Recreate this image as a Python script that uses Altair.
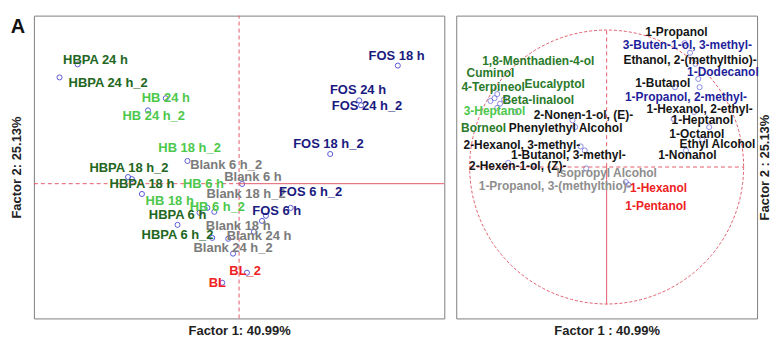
import altair as alt
import pandas as pd

FONT = "Liberation Sans"

# ---------------- Score plot (samples) ----------------
sample_names = ["HBPA 24 h", "HBPA 24 h_2", "HB 24 h", "HB 24 h_2", "HB 18 h_2",
                "HBPA 18 h_2", "HBPA 18 h", "HB 18 h", "HB 6 h", "HB 6 h_2",
                "HBPA 6 h", "HBPA 6 h_2", "Blank 6 h", "Blank 6 h_2", "Blank 18 h_2",
                "Blank 18 h", "Blank 24 h", "Blank 24 h_2", "BL", "BL_2",
                "FOS 18 h", "FOS 24 h", "FOS 24 h_2", "FOS 18 h_2", "FOS 6 h_2", "FOS 6 h"]
sample_group = ["HBPA", "HBPA", "HB", "HB", "HB",
                "HBPA", "HBPA", "HB", "HB", "HB",
                "HBPA", "HBPA", "Blank", "Blank", "Blank",
                "Blank", "Blank", "Blank", "BL", "BL",
                "FOS", "FOS", "FOS", "FOS", "FOS", "FOS"]
sample_f1 = [-5.35, -5.95, -2.43, -3.02, -1.71, -3.68, -3.55, -3.22, -1.31, -0.82,
             -2.04, -0.89, 0.10, -1.05, 0.76, 0.49, -0.36, -0.20, -0.56, 0.26,
             5.26, 3.98, 4.04, 3.02, 1.71, 0.89]
sample_f2 = [3.94, 3.51, 2.82, 2.42, 0.75, 0.22, 0.15, -0.34, -0.96, -0.93,
             -1.36, -1.79, -0.01, -0.80, -1.23, -1.59, -1.82, -2.31, -3.27, -2.94,
             3.90, 2.75, 2.59, 0.98, -0.80, -1.06]
sample_label_f1 = [-4.76, -4.34, -2.43, -2.83, -1.64, -3.65, -3.22, -2.30, -1.18, -0.72,
                   -2.04, -2.04, 0.46, -0.43, 0.23, -0.03, 0.66, -0.20, -0.72, 0.20,
                   5.22, 3.94, 4.24, 2.96, 2.37, 1.25]
sample_label_f2 = [4.10, 3.31, 2.82, 2.23, 1.17, 0.52, -0.01, -0.57, -0.01, -0.77,
                   -1.03, -1.69, 0.22, 0.62, -0.34, -1.39, -1.72, -2.12, -3.27, -2.87,
                   4.23, 3.08, 2.56, 1.31, -0.27, -0.90]
sample_groups = ["HBPA", "HB", "Blank", "FOS", "BL"]
sample_colors = ["#226622", "#4cc84c", "#7b7b7b", "#1a1a80", "#ee2222"]

# ---------------- Loadings plot (variables) ----------------
var_names = ["1,8-Menthadien-4-ol", "Cuminol", "4-Terpineol", "Eucalyptol", "Beta-linalool",
             "3-Heptanol", "Borneol", "2-Nonen-1-ol, (E)-", "Phenylethyl Alcohol",
             "2-Hexanol, 3-methyl-", "1-Butanol, 3-methyl-", "2-Hexen-1-ol, (Z)-",
             "Isopropyl Alcohol", "1-Propanol, 3-(methylthio)-", "1-Hexanol", "1-Pentanol",
             "1-Propanol", "3-Buten-1-ol, 3-methyl-", "Ethanol, 2-(methylthio)-", "1-Dodecanol",
             "1-Butanol", "1-Propanol, 2-methyl-", "1-Hexanol, 2-ethyl-", "1-Heptanol",
             "1-Octanol", "Ethyl Alcohol", "1-Nonanol"]
var_group = ["terpenoid", "terpenoid", "terpenoid", "terpenoid", "terpenoid",
             "heptanol", "terpenoid", "alcohol", "alcohol",
             "alcohol", "alcohol", "alcohol",
             "minor", "minor", "BL-linked", "BL-linked",
             "alcohol", "FOS-linked", "alcohol", "FOS-linked",
             "alcohol", "FOS-linked", "alcohol", "alcohol",
             "alcohol", "alcohol", "alcohol"]
var_f1 = [-0.82, -0.85, -0.80, -0.78, -0.75, -0.67, -0.80, -0.25, -0.23,
          -0.19, -0.16, -0.72, -0.15, -0.53, 0.14, 0.16,
          0.57, 0.61, 0.65, 0.67, 0.50, 0.68, 0.64, 0.49, 0.75, 0.70, 0.58]
var_f2 = [0.50, 0.48, 0.53, 0.46, 0.49, 0.40, 0.43, 0.34, 0.29,
          0.15, 0.12, 0.03, -0.01, 0.01, -0.11, -0.13,
          0.90, 0.83, 0.75, 0.64, 0.58, 0.58, 0.40, 0.35, 0.29, 0.20, 0.12]
var_label_f1 = [-0.50, -0.85, -0.83, -0.38, -0.50, -0.82, -0.90, -0.17, -0.30,
                -0.62, -0.28, -0.65, 0.00, -0.38, 0.38, 0.36,
                0.51, 0.59, 0.61, 0.85, 0.41, 0.58, 0.68, 0.70, 0.66, 0.81, 0.59]
var_label_f2 = [0.77, 0.68, 0.58, 0.60, 0.49, 0.41, 0.28, 0.38, 0.28,
                0.16, 0.09, 0.01, -0.04, -0.14, -0.15, -0.28,
                0.98, 0.89, 0.78, 0.69, 0.61, 0.51, 0.42, 0.34, 0.24, 0.17, 0.09]
var_groups = ["terpenoid", "heptanol", "alcohol", "FOS-linked", "minor", "BL-linked"]
var_colors = ["#2a7a2a", "#4cc84c", "#151515", "#1f1f9c", "#8e8e8e", "#ee2222"]

x1_title = "Factor 1: 40.99%"
y1_title = "Factor 2: 25.13%"
x2_title = "Factor 1 : 40.99%"
y2_title = "Factor 2 : 25.13%"

# scale ranges of the two factor plots and the unit correlation circle
score_x_domain = [-6.8, 6.8]
score_y_domain = [-4.45, 5.55]
load_domain = [-1.1, 1.1]
circle_r = [1.0]

sdf = pd.DataFrame({"name": sample_names, "group": sample_group, "f1": sample_f1,
                    "f2": sample_f2, "lx": sample_label_f1, "ly": sample_label_f2})
vdf = pd.DataFrame({"name": var_names, "group": var_group, "f1": var_f1,
                    "f2": var_f2, "lx": var_label_f1, "ly": var_label_f2})

# guide line tables (in data units)
l_hdash = pd.DataFrame({"x": [score_x_domain[0]], "x2": [0.0], "y": [0.0]})
l_hsolid = pd.DataFrame({"x": [0.0], "x2": [score_x_domain[1]], "y": [0.0]})
l_vdash = pd.DataFrame({"x": [0.0], "y": [score_y_domain[0]], "y2": [score_y_domain[1]]})
r_vdash = pd.DataFrame({"x": [0.0], "y": [0.0], "y2": [circle_r[0]]})
r_vsolid = pd.DataFrame({"x": [0.0], "y": [-circle_r[0]], "y2": [0.0]})
r_hdash = pd.DataFrame({"x": [-circle_r[0]], "x2": [circle_r[0]], "y": [0.0]})
r_center = pd.DataFrame({"x": [0.0], "y": [0.0]})

GUIDE = "#e25c6a"
PT = "#5a5ad6"
ax = dict(labels=False, ticks=False, grid=False, domain=False, titleFont=FONT,
          titleFontSize=13, titleFontWeight="bold", titleColor="#222222")

LW, RW, H = 412, 302, 304

# ---------- left panel ----------
xs1 = alt.Scale(domain=score_x_domain, nice=False, zero=False)
ys1 = alt.Scale(domain=score_y_domain, nice=False, zero=False)
xa1 = alt.Axis(title=x1_title, titlePadding=6, **ax)
ya1 = alt.Axis(title=y1_title, titlePadding=10, **ax)


def X1(f):
    return alt.X(f, scale=xs1, axis=xa1, title=x1_title)


def Y1(f):
    return alt.Y(f, scale=ys1, axis=ya1, title=y1_title)


l_pts = alt.Chart(sdf).mark_point(shape="circle", filled=False, size=26, color=PT,
                                  strokeWidth=1, opacity=1).encode(
    x=X1("f1:Q"), y=Y1("f2:Q"))
l_txt = alt.Chart(sdf).mark_text(font=FONT, fontSize=13, fontWeight="bold",
                                 align="center", baseline="middle").encode(
    x=X1("lx:Q"), y=Y1("ly:Q"),
    text="name:N",
    color=alt.Color("group:N", scale=alt.Scale(domain=sample_groups, range=sample_colors),
                    legend=None),
)
l_v = alt.Chart(l_vdash).mark_rule(color=GUIDE, strokeWidth=1, strokeDash=[4, 3]).encode(
    x=X1("x:Q"), y=Y1("y:Q"), y2="y2:Q")
l_h1 = alt.Chart(l_hdash).mark_rule(color=GUIDE, strokeWidth=1, strokeDash=[4, 3]).encode(
    x=X1("x:Q"), x2="x2:Q", y=Y1("y:Q"))
l_h2 = alt.Chart(l_hsolid).mark_rule(color=GUIDE, strokeWidth=1).encode(
    x=X1("x:Q"), x2="x2:Q", y=Y1("y:Q"))
l_A = alt.Chart(r_center).mark_text(text="A", font=FONT, fontSize=20, fontWeight="bold",
                                    align="center", baseline="alphabetic",
                                    color="#111111").encode(
    x=alt.value(-16), y=alt.value(17))

left = alt.layer(l_pts, l_v, l_h1, l_h2, l_txt, l_A).properties(width=LW, height=H)

# ---------- right panel ----------
xs2 = alt.Scale(domain=load_domain, nice=False, zero=False)
ys2 = alt.Scale(domain=load_domain, nice=False, zero=False)
xa2 = alt.Axis(title=x2_title, titlePadding=6, **ax)
ya2 = alt.Axis(title=y2_title, orient="right", titleAngle=270, titleBaseline="top",
               titlePadding=1, **ax)


def X2(f):
    return alt.X(f, scale=xs2, axis=xa2, title=x2_title)


def Y2(f):
    return alt.Y(f, scale=ys2, axis=ya2, title=y2_title)


r_pts = alt.Chart(vdf).mark_point(shape="circle", filled=False, size=26, color=PT,
                                  strokeWidth=1).encode(
    x=X2("f1:Q"), y=Y2("f2:Q"))
r_txt = alt.Chart(vdf).mark_text(font=FONT, fontSize=12, fontWeight="bold",
                                 align="center", baseline="middle").encode(
    x=X2("lx:Q"), y=Y2("ly:Q"),
    text="name:N",
    color=alt.Color("group:N", scale=alt.Scale(domain=var_groups, range=var_colors),
                    legend=None),
)
# unit circle: a circle symbol centred on (0, 0), diameter 2 units (~275 px)
r_circle = alt.Chart(r_center).mark_point(shape="circle", filled=False, color=GUIDE,
                                          strokeWidth=1, strokeDash=[3, 2], size=75625,
                                          opacity=1).encode(
    x=X2("x:Q"), y=Y2("y:Q"))
r_v1 = alt.Chart(r_vdash).mark_rule(color=GUIDE, strokeWidth=1, strokeDash=[4, 3]).encode(
    x=X2("x:Q"), y=Y2("y:Q"), y2="y2:Q")
r_v2 = alt.Chart(r_vsolid).mark_rule(color=GUIDE, strokeWidth=1).encode(
    x=X2("x:Q"), y=Y2("y:Q"), y2="y2:Q")
r_h = alt.Chart(r_hdash).mark_rule(color=GUIDE, strokeWidth=1, strokeDash=[4, 3]).encode(
    x=X2("x:Q"), x2="x2:Q", y=Y2("y:Q"))

right = alt.layer(r_pts, r_circle, r_v1, r_v2, r_h, r_txt).properties(width=RW, height=H)

chart = alt.hconcat(left, right, spacing=10).resolve_scale(
    color="independent"
).properties(
    padding={"left": 2, "top": 6, "right": 0, "bottom": 0}
).configure_view(stroke="#7f7f7f", strokeWidth=1)

chart.save("out.html", embed_options={"renderer": "svg", "actions": False})
